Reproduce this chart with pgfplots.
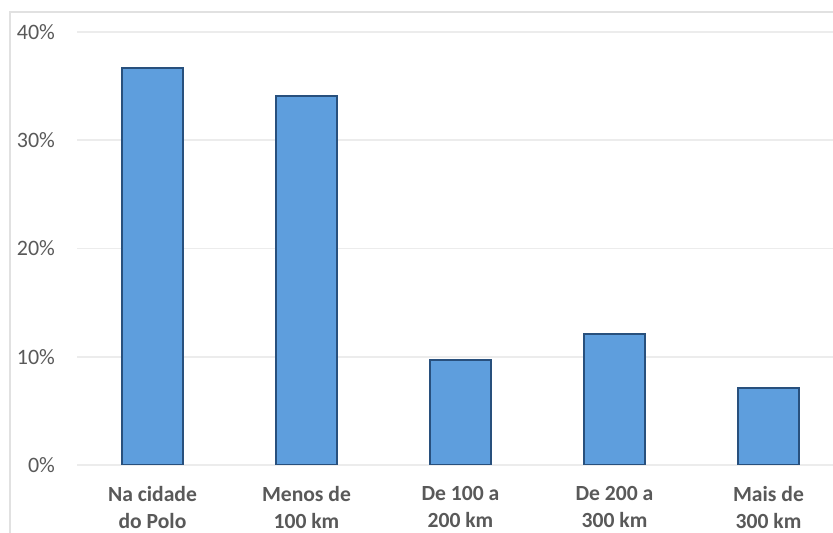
\documentclass[border=0pt]{standalone}
\usepackage{pgfplots}
\pgfplotsset{compat=1.18}
\usepackage{fontspec}
\setmainfont{Carlito}
\definecolor{barblue}{RGB}{94,158,221}
\definecolor{bardark}{RGB}{40,80,125}
\definecolor{barlight}{RGB}{140,190,240}
\definecolor{txtgray}{RGB}{89,89,89}
\definecolor{gridgray}{RGB}{236,236,236}
\definecolor{framegray}{RGB}{225,225,225}
\begin{document}
\begin{tikzpicture}
\useasboundingbox (0,0) rectangle (416.5pt,266.5pt);
\draw[framegray, line width=0.6pt] (5pt,0) -- (5pt,260.5pt) -- (416.5pt,260.5pt);
\begin{axis}[
  at={(38.5pt,34pt)}, anchor=south west,
  scale only axis, width=378pt, height=216.5pt,
  xmin=-0.49, xmax=4.419, ymin=0, ymax=40,
  clip=true,
  axis line style={draw=none},
  tick style={draw=none},
  ymajorgrids, grid style={gridgray, line width=0.8pt},
  ytick={0,10,20,30,40},
  yticklabels={0\%,10\%,20\%,30\%,40\%},
  yticklabel style={font=\fontsize{11}{13}\selectfont, text=txtgray, xshift=-7.5pt},
  xtick={0,1,2,3,4},
  xticklabels={Na cidade\\do Polo, Menos de\\100 km, De 100 a\\200 km, De 200 a\\300 km, Mais de\\300 km},
  xticklabel style={font=\fontsize{10.8}{13.5}\selectfont\bfseries, text=txtgray, align=center, yshift=-3pt},
  ybar, bar width=0.396, bar shift=0pt,
]
\addplot[fill=barblue, draw=bardark, line width=0.8pt] coordinates {(0,36.7) (1,34.1) (2,9.7) (3,12.1) (4,7.1)};
\end{axis}
\end{tikzpicture}
\end{document}
